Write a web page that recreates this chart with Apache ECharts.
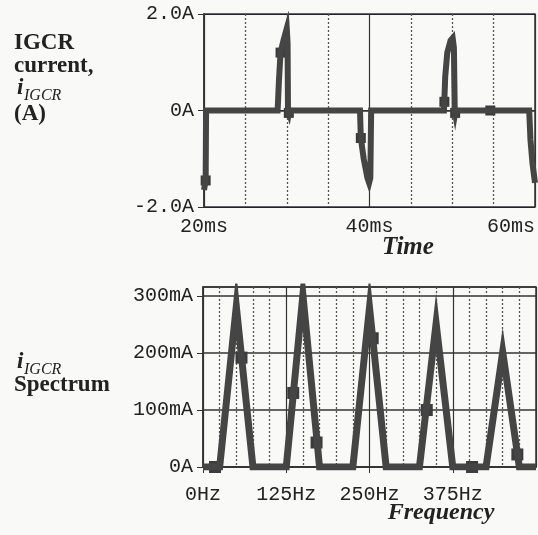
<!DOCTYPE html>
<html>
<head>
<meta charset="utf-8">
<script src="https://cdn.jsdelivr.net/npm/echarts@6/dist/echarts.min.js"></script>
<style>
  html, body { margin: 0; padding: 0; background: #f9f9f7; }
  #main { width: 538px; height: 535px; }
</style>
</head>
<body>
<div id="main"></div>
<script>
// IGCR current (time domain), ms / A
var timeMs   = [20.0, 20.2, 20.25, 28.9, 29.05, 29.25, 29.6, 30.0, 30.1, 30.15, 30.25, 30.3,
                38.85, 38.95, 39.3, 39.75, 39.95, 40.1, 40.2,
                49.0, 49.15, 49.4, 49.8, 50.05, 50.2, 50.3, 50.35, 50.4,
                59.3, 59.45, 59.7, 60.0];
var currentA = [-1.65, -1.45, 0, 0, 0.6, 1.2, 1.45, 1.7, 1.4, 0, -0.05, 0,
                0, -0.57, -1.0, -1.4, -1.5, -1.4, 0,
                0, 0.7, 1.2, 1.45, 1.5, 1.3, 0, -0.05, 0,
                0, -0.6, -1.1, -1.5];
// plot markers on the time trace
var markTimeMs   = [20.2, 29.25, 30.25, 38.95, 49.05, 50.35, 54.6];
var markCurrentA = [-1.45, 1.2, -0.05, -0.57, 0.18, -0.05, 0];

// spectrum, Hz / mA
var freqHz     = [0, 25, 50, 75, 100, 125, 150, 175, 200, 225, 250, 275, 300, 325, 350, 375, 400, 425, 450, 475, 500];
var spectrumMA = [0, 0, 282, 0, 0, 0, 302, 0, 0, 0, 280, 0, 0, 0, 252, 0, 0, 0, 202, 0, 0];
var markFreqHz = [18, 57.8, 135.5, 170.5, 254.8, 336, 404, 472];
var markMA     = [0, 192, 130, 43, 226, 100, 0, 22];

var traceColor = '#454545';
var monoFont = '"Liberation Mono", "DejaVu Sans Mono", monospace';
var serif = '"Liberation Serif", "DejaVu Serif", serif';

function pairs(xs, ys) {
    var res = [];
    for (var i = 0; i < xs.length; i++) res.push([xs[i], ys[i]]);
    return res;
}

var dom = document.getElementById('main');
var myChart = echarts.init(dom, null, {renderer: 'canvas'});

var axisLab = {color: '#222', fontFamily: monoFont, fontSize: 20};

var option = {
    backgroundColor: '#f9f9f7',
    animation: false,
    grid: [
        {left: 204, top: 14, width: 332, height: 193, show: true, borderColor: '#333', borderWidth: 1.5, backgroundColor: 'transparent'},
        {left: 203, top: 287, width: 333, height: 180, show: true, borderColor: '#333', borderWidth: 1.5, backgroundColor: 'transparent'}
    ],
    xAxis: [
        {
            gridIndex: 0, type: 'value', min: 20, max: 60, interval: 20,
            axisLine: {show: true, lineStyle: {color: '#333', width: 1.5}},
            axisTick: {show: true, length: 6, lineStyle: {color: '#333'}},
            axisLabel: Object.assign({margin: 10, alignMaxLabel: 'right', formatter: function (v) { return v + 'ms'; }}, axisLab),
            splitLine: {show: true, lineStyle: {color: '#333', width: 1.2}},
            minorTick: {show: false, splitNumber: 4},
            minorSplitLine: {show: true, lineStyle: {color: '#555', width: 1.3, type: [2, 2]}}
        },
        {
            gridIndex: 1, type: 'value', min: 0, max: 500, interval: 125,
            axisLine: {show: true, lineStyle: {color: '#333', width: 1.5}},
            axisTick: {show: true, length: 6, lineStyle: {color: '#333'}},
            axisLabel: Object.assign({margin: 18, showMaxLabel: false, formatter: function (v) { return v + 'Hz'; }}, axisLab),
            splitLine: {show: true, lineStyle: {color: '#333', width: 1.2}},
            minorTick: {show: false, splitNumber: 5},
            minorSplitLine: {show: true, lineStyle: {color: '#555', width: 1.3, type: [2, 2]}}
        }
    ],
    yAxis: [
        {
            gridIndex: 0, type: 'value', min: -2, max: 2, interval: 2,
            axisLine: {show: true, lineStyle: {color: '#333', width: 1.5}},
            axisTick: {show: true, length: 6, lineStyle: {color: '#333'}},
            axisLabel: Object.assign({margin: 10, formatter: function (v) { return v === 0 ? '0A' : v.toFixed(1) + 'A'; }}, axisLab),
            splitLine: {show: true, lineStyle: {color: '#223', width: 1.2}}
        },
        {
            gridIndex: 1, type: 'value', min: 0, max: 316, interval: 100,
            axisLine: {show: true, lineStyle: {color: '#333', width: 1.5}},
            axisTick: {show: true, length: 6, lineStyle: {color: '#333'}},
            axisLabel: Object.assign({margin: 10, showMaxLabel: false, formatter: function (v) { return v === 0 ? '0A' : v + 'mA'; }}, axisLab),
            splitLine: {show: true, lineStyle: {color: '#333', width: 1.5}}
        }
    ],
    series: [
        {
            name: 'iIGCR', type: 'line', xAxisIndex: 0, yAxisIndex: 0,
            data: pairs(timeMs, currentA),
            showSymbol: false, clip: true,
            lineStyle: {color: traceColor, width: 6, join: 'miter', miterLimit: 10}
        },
        {
            name: 'iIGCR marks', type: 'scatter', xAxisIndex: 0, yAxisIndex: 0,
            data: pairs(markTimeMs, markCurrentA),
            symbol: 'rect', symbolSize: 10,
            itemStyle: {color: '#3c3c3c', opacity: 1}
        },
        {
            name: 'spectrum', type: 'line', xAxisIndex: 1, yAxisIndex: 1,
            data: pairs(freqHz, spectrumMA),
            showSymbol: false, clip: true,
            lineStyle: {color: traceColor, width: 7, join: 'miter', miterLimit: 12}
        },
        {
            name: 'spectrum marks', type: 'scatter', xAxisIndex: 1, yAxisIndex: 1,
            data: pairs(markFreqHz, markMA),
            symbol: 'rect', symbolSize: 12,
            itemStyle: {color: '#3c3c3c', opacity: 1}
        }
    ],
    graphic: [
        // left labels, top chart
        {type: 'text', x: 14, y: 43, style: {text: 'IGCR', font: 'bold 23px ' + serif, fill: '#222', textVerticalAlign: 'middle'}},
        {type: 'text', x: 14, y: 66, style: {text: 'current,', font: 'bold 23px ' + serif, fill: '#222', textVerticalAlign: 'middle'}},
        {type: 'text', x: 17, y: 88, style: {text: 'i', font: 'italic bold 23px ' + serif, fill: '#222', textVerticalAlign: 'middle'}},
        {type: 'text', x: 24, y: 96, style: {text: 'IGCR', font: 'italic 16px ' + serif, fill: '#222', textVerticalAlign: 'middle'}},
        {type: 'text', x: 14, y: 114, style: {text: '(A)', font: 'bold 23px ' + serif, fill: '#222', textVerticalAlign: 'middle'}},
        // left labels, bottom chart
        {type: 'text', x: 17, y: 362, style: {text: 'i', font: 'italic bold 23px ' + serif, fill: '#222', textVerticalAlign: 'middle'}},
        {type: 'text', x: 24, y: 370, style: {text: 'IGCR', font: 'italic 16px ' + serif, fill: '#222', textVerticalAlign: 'middle'}},
        {type: 'text', x: 14, y: 385, style: {text: 'Spectrum', font: 'bold 23px ' + serif, fill: '#222', textVerticalAlign: 'middle'}},
        // axis titles
        {type: 'text', x: 408, y: 248, style: {text: 'Time', font: 'italic bold 25px ' + serif, fill: '#222', textAlign: 'center', textVerticalAlign: 'middle'}},
        {type: 'text', x: 441, y: 513, style: {text: 'Frequency', font: 'italic bold 24px ' + serif, fill: '#222', textAlign: 'center', textVerticalAlign: 'middle'}}
    ]
};

myChart.setOption(option);
</script>
</body>
</html>
